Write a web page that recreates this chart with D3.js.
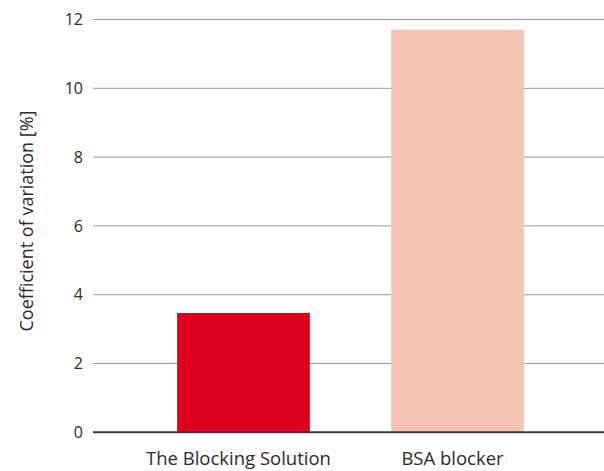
<!DOCTYPE html>
<html>
<head>
<meta charset="utf-8">
<script src="https://cdn.jsdelivr.net/npm/d3@7"></script>
<style>
  body { margin: 0; background: #fff; }
  text { font-family: "Open Sans", sans-serif; fill: #2b2b2b; }
</style>
</head>
<body>
<div id="chart"></div>
<script>
var categories = ["The Blocking Solution", "BSA blocker"];
var values = [3.47, 11.7];
var barColors = ["#db001b", "#f5c4b2"];
var yTicks = [0, 2, 4, 6, 8, 10, 12];
var yTitle = "Coefficient of variation [%]";

var width = 604;
var height = 471;

var svg = d3.select("#chart")
    .append("svg")
    .attr("width", width)
    .attr("height", height);

// Scales
var y = d3.scaleLinear()
    .domain([0, 12])
    .range([432.3, 19.5]);

var x = d3.scaleBand()
    .domain(categories)
    .range([97, 604])
    .paddingInner(0.38)
    .paddingOuter(0.3745);

// Gridlines
svg.selectAll(".grid")
    .data(yTicks.filter(function (d) { return d > 0; }))
    .enter()
    .append("line")
    .attr("class", "grid")
    .attr("x1", 93)
    .attr("x2", width)
    .attr("y1", function (d) { return y(d); })
    .attr("y2", function (d) { return y(d); })
    .attr("stroke", "#9a9a9a")
    .attr("stroke-width", 1);

// Tick labels
svg.selectAll(".ytick")
    .data(yTicks)
    .enter()
    .append("text")
    .attr("class", "ytick")
    .attr("x", 83)
    .attr("y", function (d) { return y(d); })
    .attr("dy", "0.36em")
    .attr("text-anchor", "end")
    .style("font-size", "16px")
    .text(function (d) { return d; });

// Bars
svg.selectAll(".bar")
    .data(values)
    .enter()
    .append("rect")
    .attr("class", "bar")
    .attr("x", function (d, i) { return x(categories[i]); })
    .attr("width", x.bandwidth())
    .attr("y", function (d) { return y(d); })
    .attr("height", function (d) { return y(0) - y(d); })
    .attr("fill", function (d, i) { return barColors[i]; });

// Baseline
svg.append("line")
    .attr("x1", 93)
    .attr("x2", width)
    .attr("y1", y(0))
    .attr("y2", y(0))
    .attr("stroke", "#3a3a3a")
    .attr("stroke-width", 2);

// Category labels
svg.selectAll(".xlabel")
    .data(categories)
    .enter()
    .append("text")
    .attr("class", "xlabel")
    .attr("x", function (d) { return x(d) + x.bandwidth() / 2 - 5; })
    .attr("y", 465)
    .attr("text-anchor", "middle")
    .style("font-size", "18.5px")
    .text(function (d) { return d; });

// Y title
svg.append("text")
    .attr("transform", "translate(33,221) rotate(-90)")
    .attr("text-anchor", "middle")
    .style("font-size", "18px")
    .text(yTitle);
</script>
</body>
</html>
